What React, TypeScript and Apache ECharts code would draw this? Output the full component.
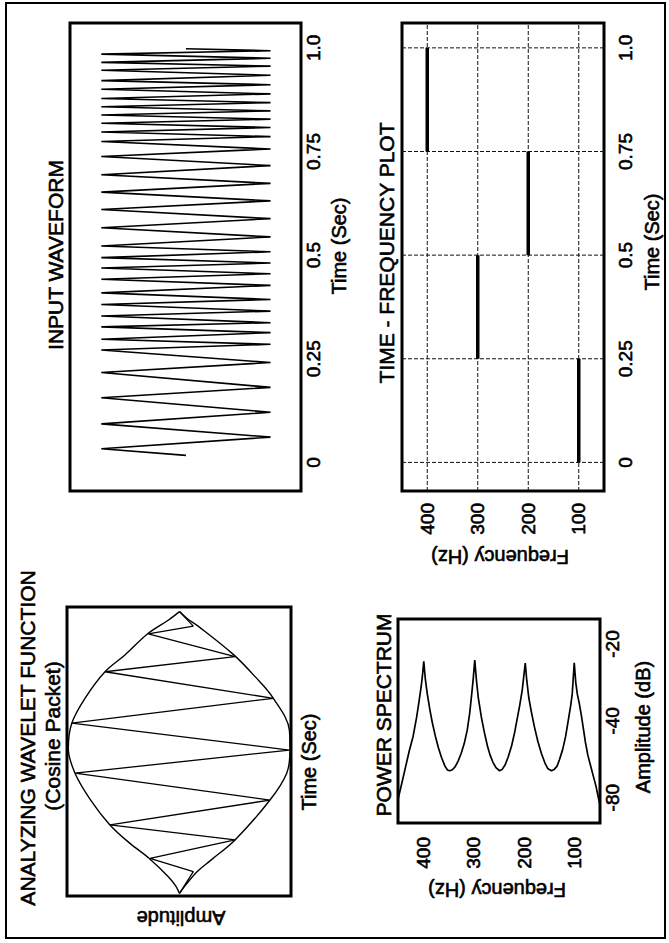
import React, { useEffect, useRef } from "react";
import * as echarts from "echarts";

const FONT = "'Liberation Sans', Arial, Helvetica, sans-serif";

// ---- Analyzing wavelet (cosine packet): zigzag vertices
const waveletTime = [0.009, 0.084, 0.13, 0.194, 0.246, 0.332, 0.425, 0.505, 0.598, 0.684, 0.776, 0.828, 0.907, 0.934, 0.984];
const waveletAmp = [0.0, -0.126, 0.269, -0.507, 0.635, -0.826, 0.954, -1.003, 0.984, -0.857, 0.68, -0.507, 0.285, -0.126, 0.0];

// envelope (upper and lower)
const envUpperTime = [0.009, 0.035, 0.066, 0.13, 0.182, 0.246, 0.332, 0.425, 0.511, 0.597, 0.684, 0.776, 0.834, 0.909, 0.955, 0.984];
const envUpperAmp = [0.0, 0.035, 0.1, 0.276, 0.452, 0.635, 0.811, 0.954, 1.015, 0.984, 0.863, 0.68, 0.498, 0.285, 0.1, 0.0];
const envLowerTime = [0.009, 0.035, 0.084, 0.125, 0.194, 0.332, 0.425, 0.505, 0.574, 0.684, 0.759, 0.836, 0.934, 0.96, 0.984];
const envLowerAmp = [0.0, -0.05, -0.16, -0.29, -0.507, -0.826, -0.979, -1.009, -1.003, -0.857, -0.69, -0.491, -0.17, -0.07, 0.0];

// ---- Input waveform: zigzag vertices (time in s, amplitude)
const inputTime = [
  0.017, 0.033, 0.061, 0.093, 0.121, 0.156, 0.181, 0.217, 0.241, 0.271,
  0.285, 0.297, 0.313, 0.327, 0.337, 0.353, 0.365, 0.381, 0.393, 0.409,
  0.427, 0.442, 0.455, 0.469, 0.481, 0.494, 0.508, 0.522, 0.544, 0.566,
  0.588, 0.61, 0.631, 0.652, 0.673, 0.694, 0.716, 0.738, 0.756, 0.774,
  0.786, 0.797, 0.808, 0.818, 0.828, 0.838, 0.848, 0.858, 0.868, 0.878,
  0.889, 0.9, 0.911, 0.921, 0.934, 0.946, 0.956, 0.965, 0.975, 0.985,
  0.993, 0.998,
];
const inputAmp = [
  0, 1, -1, 1, -1, 1, -1, 1, -1, 1,
  -1, 1, -1, 1, -1, 1, -1, 1, -1, 1,
  -1, 1, -1, 1, -1, 1, -1, 1, -1, 1,
  -1, 1, -1, 1, -1, 1, -1, 1, -1, 1,
  -1, 1, -1, 1, -1, 1, -1, 1, -1, 1,
  -1, 1, -1, 1, -1, 1, -1, 1, -1, 1,
  -1, 0,
];

// ---- Power spectrum (frequency Hz, amplitude dB)
const specFreq = [
  450, 442, 435, 428, 420, 413, 409, 404, 401, 399,
  396, 392, 387, 382, 376, 370, 364, 357, 352, 348,
  343, 337, 331, 325, 319, 313, 308, 304, 301, 298,
  295, 291, 285, 279, 273, 268, 262, 256, 249,
  244, 238, 232, 225, 219, 214, 209, 204, 201, 198,
  195, 191, 186, 180, 173, 166, 159, 153, 146,
  141, 135, 130, 124, 118, 113, 108, 105, 103, 101,
  98, 95, 91, 87, 83, 79, 74, 69, 64, 58, 54, 50,
];
const specDb = [
  -60.5, -56, -52, -48, -44, -39, -35.5, -31, -27.5, -24.5,
  -29, -33, -37, -40.5, -44, -47, -49.5, -51.8, -52.8, -53,
  -52.8, -52, -50.5, -48.5, -46, -42.5, -38, -33, -29, -24.2,
  -29, -34, -39, -43, -46.5, -48.8, -50.8, -52.2, -53,
  -52.7, -51.5, -49.5, -46.5, -43, -39.5, -36, -32, -28.5, -25,
  -29.5, -34, -37.6, -41.5, -45.4, -48.5, -51, -52.5, -53,
  -52.7, -51.8, -50, -47.5, -44, -40, -36, -33, -29, -24.9,
  -30, -33, -35.5, -38.5, -42, -45.5, -49, -51.5, -54, -57, -59.5, -62,
];

// ---- Time-frequency plot segments
const tfFreq = [100, 300, 200, 400];
const tfStart = [0, 0.25, 0.5, 0.75];
const tfEnd = [0.25, 0.5, 0.75, 1.0];

// ---- Ticks
const timeTickValues = [0, 0.25, 0.5, 0.75, 1];
const timeTickLabels = ["0", "0.25", "0.5", "0.75", "1.0"];
const freqTickValues = [100, 200, 300, 400];
const freqTickLabels = ["100", "200", "300", "400"];
const dbTickValues = [-60, -40, -20];
const dbTickLabels = ["-80", "-40", "-20"];

const TIME_MIN = -0.069;
const TIME_MAX = 1.06;
const FREQ_MIN = 50;
const FREQ_MAX = 450;

function lookup(values: number[], labels: string[]) {
  return (v: number) => {
    const i = values.findIndex((x) => Math.abs(x - v) < 1e-6);
    return i >= 0 ? labels[i] : "";
  };
}

const hidden = {
  axisLine: { show: false },
  axisTick: { show: false },
  axisLabel: { show: false },
  splitLine: { show: false },
};

function labelled(values: number[], labels: string[], margin: number) {
  return {
    axisLine: { show: false },
    axisTick: { show: false },
    splitLine: { show: false },
    axisLabel: {
      show: true,
      customValues: values,
      formatter: lookup(values, labels),
      margin,
      color: "#000",
      fontSize: 19,
      fontFamily: FONT,
      textBorderColor: "#000",
      textBorderWidth: 0.6,
    },
  };
}

function pairs(xs: number[], ys: number[]) {
  return xs.map((x, i) => [x, ys[i]]);
}

function text(str: string, x: number, y: number, size: number, rot = 0) {
  return {
    type: "text",
    x,
    y,
    rotation: rot,
    silent: true,
    style: {
      text: str,
      x: 0,
      y: 0,
      font: `${size}px ${FONT}`,
      fill: "#000",
      stroke: "#000",
      lineWidth: 0.6,
      align: "center",
      verticalAlign: "middle",
      textAlign: "center",
      textVerticalAlign: "middle",
    },
  };
}

function buildOption() {
  const gridStyle = { show: true, borderColor: "#000", borderWidth: 3, backgroundColor: "transparent" };
  const line = (xi: number, data: any[], width: number, extra: any = {}) => ({
    type: "line",
    xAxisIndex: xi,
    yAxisIndex: xi,
    data,
    symbol: "none",
    silent: true,
    lineStyle: { color: "#000", width, ...(extra.lineStyle || {}) },
    ...(extra.smooth !== undefined ? { smooth: extra.smooth } : {}),
    z: extra.z ?? 3,
  });

  const series: any[] = [
    line(0, pairs(waveletTime, waveletAmp), 1.3),
    line(0, pairs(envUpperTime, envUpperAmp), 1.4, { smooth: 0.35 }),
    line(0, pairs(envLowerTime, envLowerAmp), 1.4, { smooth: 0.35 }),
    line(1, pairs(inputTime, inputAmp), 1.6),
    line(2, pairs(specDb, specFreq), 1.7),
  ];
  // TF dashed grid
  freqTickValues.forEach((f) => {
    series.push(line(3, [[TIME_MIN, f], [TIME_MAX, f]], 1, { lineStyle: { type: [4, 2], color: "#111" }, z: 2 }));
  });
  timeTickValues.forEach((t) => {
    series.push(line(3, [[t, FREQ_MIN], [t, FREQ_MAX]], 1, { lineStyle: { type: [4, 2], color: "#111" }, z: 2 }));
  });
  // TF thick segments
  tfFreq.forEach((f, i) => {
    series.push(line(3, [[tfStart[i], f], [tfEnd[i], f]], 3.5, { z: 4 }));
  });

  return {
    animation: false,
    backgroundColor: "#fff",
    grid: [
      { left: 47, top: 67, width: 289, height: 224, ...gridStyle },
      { left: 452, top: 70, width: 468, height: 231, ...gridStyle },
      { left: 120, top: 398, width: 204, height: 202, ...gridStyle },
      { left: 452, top: 402, width: 468, height: 202, ...gridStyle },
    ],
    xAxis: [
      { gridIndex: 0, type: "value", min: 0, max: 1, ...hidden },
      { gridIndex: 1, type: "value", min: TIME_MIN, max: TIME_MAX, ...labelled(timeTickValues, timeTickLabels, 3) },
      { gridIndex: 2, type: "value", min: -66.6, max: -13.5, ...labelled(dbTickValues, dbTickLabels, 3) },
      { gridIndex: 3, type: "value", min: TIME_MIN, max: TIME_MAX, ...labelled(timeTickValues, timeTickLabels, 12) },
    ],
    yAxis: [
      { gridIndex: 0, type: "value", min: -1.018, max: 1.027, ...hidden },
      { gridIndex: 1, type: "value", min: -1.36, max: 1.37, ...hidden },
      { gridIndex: 2, type: "value", min: FREQ_MIN, max: FREQ_MAX, ...labelled(freqTickValues, freqTickLabels, 14) },
      { gridIndex: 3, type: "value", min: FREQ_MIN, max: FREQ_MAX, ...labelled(freqTickValues, freqTickLabels, 12) },
    ],
    series,
    graphic: [
      {
        type: "rect",
        shape: { x: 5, y: 6, width: 935, height: 659 },
        style: { fill: "none", stroke: "#000", lineWidth: 2 },
        silent: true,
      },
      text("ANALYZING WAVELET FUNCTION", 205, 27, 21),
      text("(Cosine Packet)", 207, 52, 21),
      text("Time (Sec)", 181, 309, 20),
      text("Amplitude", 25, 181, 20, Math.PI / 2),
      text("INPUT WAVEFORM", 688, 55, 21),
      text("Time (Sec)", 697, 339, 20),
      text("POWER SPECTRUM", 228, 383, 21),
      text("Amplitude (dB)", 216, 643, 20),
      text("Frequency (Hz)", 53, 497, 20, Math.PI / 2),
      text("TIME - FREQUENCY PLOT", 690, 386, 21),
      text("Time (Sec)", 701, 652, 20),
      text("Frequency (Hz)", 386, 500, 20, Math.PI / 2),
    ],
  };
}

export default function App() {
  const ref = useRef<HTMLDivElement>(null);
  useEffect(() => {
    if (!ref.current) return;
    const chart = echarts.init(ref.current, null, { renderer: "svg" });
    chart.setOption(buildOption() as any);
    return () => chart.dispose();
  }, []);
  return (
    <div
      style={{
        position: "fixed",
        left: 0,
        top: 0,
        width: 669,
        height: 943,
        overflow: "hidden",
        background: "#fff",
      }}
    >
      <div
        ref={ref}
        style={{
          position: "absolute",
          left: 0,
          top: 0,
          width: 943,
          height: 669,
          transformOrigin: "0 0",
          transform: "translate(0px, 943px) rotate(-90deg)",
        }}
      />
    </div>
  );
}
